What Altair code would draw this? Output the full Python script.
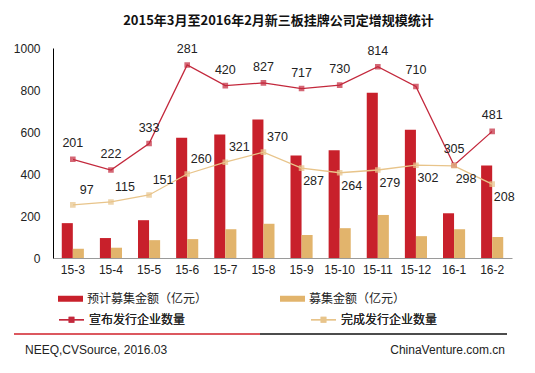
import altair as alt
import pandas as pd

months = ["15-3", "15-4", "15-5", "15-6", "15-7", "15-8", "15-9", "15-10", "15-11", "15-12", "16-1", "16-2"]
planned = [166, 95, 180, 573, 588, 659, 488, 513, 787, 611, 213, 441]
raised = [44, 49, 85, 90, 137, 163, 109, 142, 205, 104, 137, 100]
announced_y = [470, 419, 545, 919, 821, 834, 807, 823, 911, 817, 442, 603]
announced_label = [201, 222, 333, 281, 420, 827, 717, 730, 814, 710, 305, 481]
completed_y = [253, 267, 300, 400, 456, 504, 428, 406, 419, 442, 439, 352]
completed_label = [97, 115, 151, 260, 321, 370, 287, 264, 279, 302, 298, 208]

bar_names = ["预计募集金额（亿元）", "募集金额（亿元）"]
line_names = ["宣布发行企业数量", "完成发行企业数量"]
bar_colors = ["#C8202B", "#E2B46C"]
line_colors = ["#C3283C", "#E8C48A"]
title_text = "2015年3月至2016年2月新三板挂牌公司定增规模统计"
source_text = "NEEQ,CVSource, 2016.03"
site_text = "ChinaVenture.com.cn"

FONT = "Liberation Sans, Arial, 'Noto Sans CJK SC'"
CJK = "'Noto Sans CJK SC', Liberation Sans"

bars_df = pd.DataFrame(
    [{"month": m, "series": bar_names[0], "value": v, "idx": i} for i, (m, v) in enumerate(zip(months, planned))]
    + [{"month": m, "series": bar_names[1], "value": v, "idx": i} for i, (m, v) in enumerate(zip(months, raised))]
)
lines_df = pd.DataFrame(
    [{"month": m, "series": line_names[0], "value": v, "label": l, "idx": i}
     for i, (m, v, l) in enumerate(zip(months, announced_y, announced_label))]
    + [{"month": m, "series": line_names[1], "value": v, "label": l, "idx": i}
       for i, (m, v, l) in enumerate(zip(months, completed_y, completed_label))]
)

x_enc = alt.X("month:N", sort=months, title=None,
              scale=alt.Scale(paddingInner=0.42, paddingOuter=0.23),
              axis=alt.Axis(labelAngle=0, ticks=False, domainColor="#9a9a9a", labelFont=FONT,
                            labelFontSize=12, labelColor="#222", labelPadding=6))
y_enc = alt.Y("value:Q", title=None,
              scale=alt.Scale(domain=[0, 1000], nice=False),
              axis=alt.Axis(values=[0, 200, 400, 600, 800, 1000], grid=False, ticks=False, format="d",
                            domainColor="#000", labelFont=FONT, labelFontSize=12, labelColor="#222",
                            labelPadding=13))

bars = alt.Chart(bars_df).mark_bar().encode(
    x=x_enc, y=y_enc,
    xOffset=alt.XOffset("series:N", scale=alt.Scale(domain=bar_names, paddingInner=0, paddingOuter=0)),
    fill=alt.Fill("series:N", scale=alt.Scale(domain=bar_names, range=bar_colors),
                  legend=alt.Legend(title=None, orient="none", legendX=5, legendY=238, columns=2,
                                    columnPadding=72, symbolType="M-1,-0.24H1V0.24H-1Z", symbolSize=625,
                                    symbolStrokeWidth=0, labelFont=CJK, labelFontSize=12, labelColor="#222",
                                    labelFontWeight="normal", labelOffset=4)),
)

lines_base = alt.Chart(lines_df).encode(
    x=alt.X("month:N", sort=months), y=alt.Y("value:Q"),
    stroke=alt.Stroke("series:N", scale=alt.Scale(domain=line_names, range=line_colors),
                      legend=alt.Legend(title=None, orient="none", legendX=5, legendY=258, columns=2,
                                        columnPadding=122,
                                        symbolType="M-1,0H1M-0.18,-0.18H0.18V0.18H-0.18ZM-0.08,-0.08H0.08V0.08H-0.08Z",
                                        symbolSize=625, symbolStrokeWidth=1.3, labelFont=CJK, labelFontSize=12,
                                        labelFontWeight="normal", labelColor="#222", labelOffset=4)),
    order="idx:Q",
)
lines = lines_base.mark_line(strokeWidth=1.3)
points = lines_base.mark_square(filled=False, size=9, strokeWidth=2.6)

text_ann = alt.Chart(lines_df).transform_filter(alt.datum.series == line_names[0]).mark_text(
    dy=-16, font=FONT, fontSize=12.5, color="#222").encode(
    x=alt.X("month:N", sort=months), y="value:Q", text="label:Q")
text_c1 = alt.Chart(lines_df).transform_filter(
    (alt.datum.series == line_names[1]) & (alt.datum.idx < 6)).mark_text(
    dx=14, dy=-15, font=FONT, fontSize=12.5, color="#222").encode(
    x=alt.X("month:N", sort=months), y="value:Q", text="label:Q")
text_c2 = alt.Chart(lines_df).transform_filter(
    (alt.datum.series == line_names[1]) & (alt.datum.idx >= 6)).mark_text(
    dx=12, dy=13, font=FONT, fontSize=12.5, color="#222").encode(
    x=alt.X("month:N", sort=months), y="value:Q", text="label:Q")

one = pd.DataFrame({"a": [0]})
rule_red = alt.Chart(one).mark_rule(color="#D0202A", strokeWidth=1.6).encode(
    x=alt.value(-39), x2=alt.value(207), y=alt.value(286))
rule_black = alt.Chart(one).mark_rule(color="#111", strokeWidth=1.6).encode(
    x=alt.value(207), x2=alt.value(454), y=alt.value(286))
src = alt.Chart(one).mark_text(align="left", baseline="middle", font=FONT, fontSize=12, color="#222",
                               text=source_text).encode(x=alt.value(-28), y=alt.value(302))
site = alt.Chart(one).mark_text(align="right", baseline="middle", font=FONT, fontSize=12, color="#222",
                                text=site_text).encode(x=alt.value(452), y=alt.value(302))

chart = alt.layer(bars, lines, points, text_ann, text_c1, text_c2, rule_red, rule_black, src, site).resolve_scale(
    fill="independent", stroke="independent"
).properties(
    width=459, height=210,
    title=alt.Title(title_text, font=CJK, fontSize=13, fontWeight="bold", color="#111",
                    anchor="middle", offset=14, dx=-4),
    autosize=alt.AutoSizeParams(type="none"),
    padding={"left": 45, "top": 40, "right": 15, "bottom": 107},
).configure_view(stroke=None)

chart.save("out.html", embed_options={"renderer": "svg", "actions": False})
